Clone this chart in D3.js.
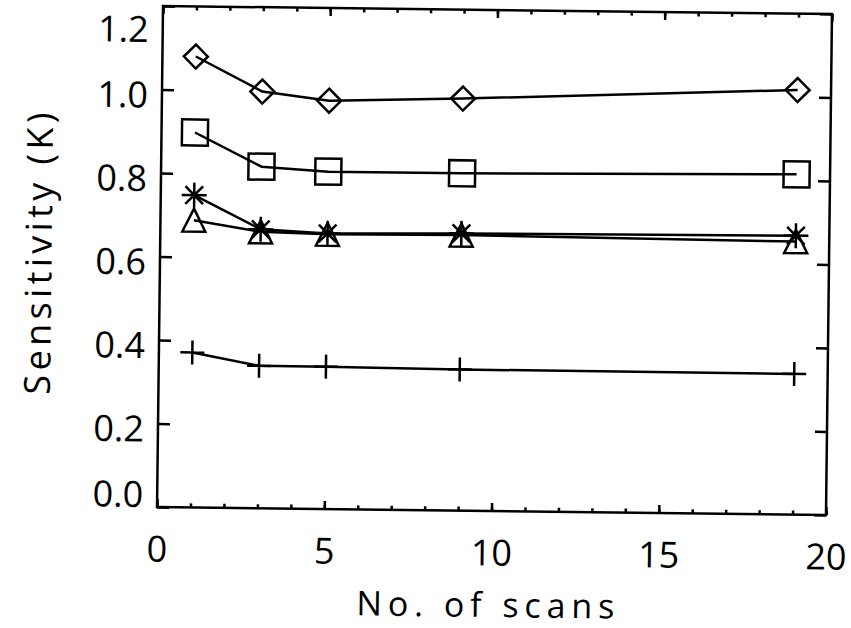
<!DOCTYPE html>
<html>
<head>
<meta charset="utf-8">
<script src="https://cdn.jsdelivr.net/npm/d3@7"></script>
<style>
  html, body { margin: 0; padding: 0; background: #fff; }
  svg text { font-family: "Open Sans", "DejaVu Sans", sans-serif; font-weight: 400; fill: #000; }
</style>
</head>
<body>
<div id="chart"></div>
<script>
const scans = [1, 3, 5, 9, 19];
const diamondVals = [1.08, 0.998, 0.978, 0.987, 1.017];
const squareVals = [0.898, 0.818, 0.808, 0.808, 0.815];
const asteriskVals = [0.748, 0.668, 0.660, 0.664, 0.668];
const triangleVals = [0.688, 0.662, 0.658, 0.660, 0.654];
const plusVals = [0.371, 0.341, 0.341, 0.338, 0.337];
const xMajorTicks = [0, 5, 10, 15, 20];
const yTicks = [0, 0.2, 0.4, 0.6, 0.8, 1.0, 1.2];

const width = 851, height = 628;
const margin = { top: 10, right: 22, bottom: 117, left: 160 };
const innerW = width - margin.left - margin.right;
const innerH = height - margin.top - margin.bottom;

const svg = d3.select('#chart').append('svg')
  .attr('width', width).attr('height', height)
  .attr('viewBox', `0 0 ${width} ${height}`);

// the scanned figure is slightly tilted
const root = svg.append('g')
  .attr('transform', `rotate(0.685, 494.5, 261)`);

const g = root.append('g')
  .attr('transform', `translate(${margin.left},${margin.top})`);

const x = d3.scaleLinear().domain([0, 20]).range([0, innerW]);
const y = d3.scaleLinear().domain([0, 1.2]).range([innerH, 0]);

const lw = 2.5;

// frame
g.append('rect')
  .attr('width', innerW).attr('height', innerH)
  .attr('fill', 'none').attr('stroke', '#000').attr('stroke-width', lw);

function styleAxis(sel) {
  sel.select('.domain').remove();
  sel.selectAll('line').attr('stroke', '#000').attr('stroke-width', lw);
}

// x axes: minor then major, inward
g.append('g').attr('transform', `translate(0,${innerH})`)
  .call(d3.axisBottom(x).tickValues(d3.range(0, 21)).tickSize(-4).tickFormat(''))
  .call(styleAxis);
g.append('g').attr('transform', `translate(0,${innerH})`)
  .call(d3.axisBottom(x).tickValues(xMajorTicks).tickSize(-8).tickFormat(d3.format('d')))
  .call(styleAxis)
  .selectAll('text').attr('font-size', 36).attr('dy', '0.35em').attr('y', 42);
g.append('g')
  .call(d3.axisTop(x).tickValues(d3.range(0, 21)).tickSize(-4).tickFormat(''))
  .call(styleAxis);
g.append('g')
  .call(d3.axisTop(x).tickValues(xMajorTicks).tickSize(-8).tickFormat(''))
  .call(styleAxis);

// y axes
const yAxisG = g.append('g')
  .call(d3.axisLeft(y).tickValues(yTicks).tickSize(-12).tickPadding(14).tickFormat(d3.format('.1f')))
  .call(styleAxis);
yAxisG.selectAll('text').attr('font-size', 36).attr('dy', '0.35em');
// keep end labels inside the frame, like the original
yAxisG.selectAll('.tick')
  .each(function(d) {
    const ty = y(d);
    const ly = Math.max(23, Math.min(innerH - 13, ty + 5));
    d3.select(this).select('text').attr('y', ly - ty);
  });
g.append('g').attr('transform', `translate(${innerW},0)`)
  .call(d3.axisRight(y).tickValues(yTicks).tickSize(-12).tickFormat(''))
  .call(styleAxis);

// axis titles
g.append('text')
  .attr('x', innerW / 2 - 5).attr('y', innerH + 93)
  .attr('text-anchor', 'middle').attr('dominant-baseline', 'central')
  .attr('font-size', 34)
  .attr('textLength', 258).attr('lengthAdjust', 'spacing')
  .text('No. of scans');
g.append('text')
  .attr('transform', `translate(${38 - margin.left},${259 - margin.top}) rotate(-90)`)
  .attr('text-anchor', 'middle').attr('dominant-baseline', 'central')
  .attr('font-size', 36)
  .attr('textLength', 282).attr('lengthAdjust', 'spacing')
  .text('Sensitivity (K)');

// series
const symbols = {
  diamond: r => `M0,${-r}L${r},0L0,${r}L${-r},0Z`,
  square: r => `M${-r},${-r}H${r}V${r}H${-r}Z`,
  triangle: r => `M${-r},${r}L0,${-r}L${r},${r}Z`,
  plus: r => `M${-r},0H${r}M0,${-r}V${r}`,
  asterisk: r => {
    const d = r * Math.SQRT1_2;
    return `M${-r},0H${r}M0,${-r}V${r}M${-d},${-d}L${d},${d}M${-d},${d}L${d},${-d}`;
  },
};

const series = [
  { vals: plusVals, sym: 'plus', r: 12 },
  { vals: triangleVals, sym: 'triangle', r: 11.5 },
  { vals: asteriskVals, sym: 'asterisk', r: 12.5 },
  { vals: squareVals, sym: 'square', r: 13 },
  { vals: diamondVals, sym: 'diamond', r: 12 },
];

const line = d3.line().x((d, i) => x(scans[i])).y(d => y(d));

series.forEach(s => {
  g.append('path')
    .attr('d', line(s.vals))
    .attr('fill', 'none').attr('stroke', '#000').attr('stroke-width', lw)
    .attr('stroke-linejoin', 'round');
  g.selectAll(null).data(s.vals).join('path')
    .attr('transform', (d, i) => `translate(${x(scans[i])},${y(d)})`)
    .attr('d', symbols[s.sym](s.r))
    .attr('fill', 'none').attr('stroke', '#000').attr('stroke-width', lw);
});
</script>
</body>
</html>
